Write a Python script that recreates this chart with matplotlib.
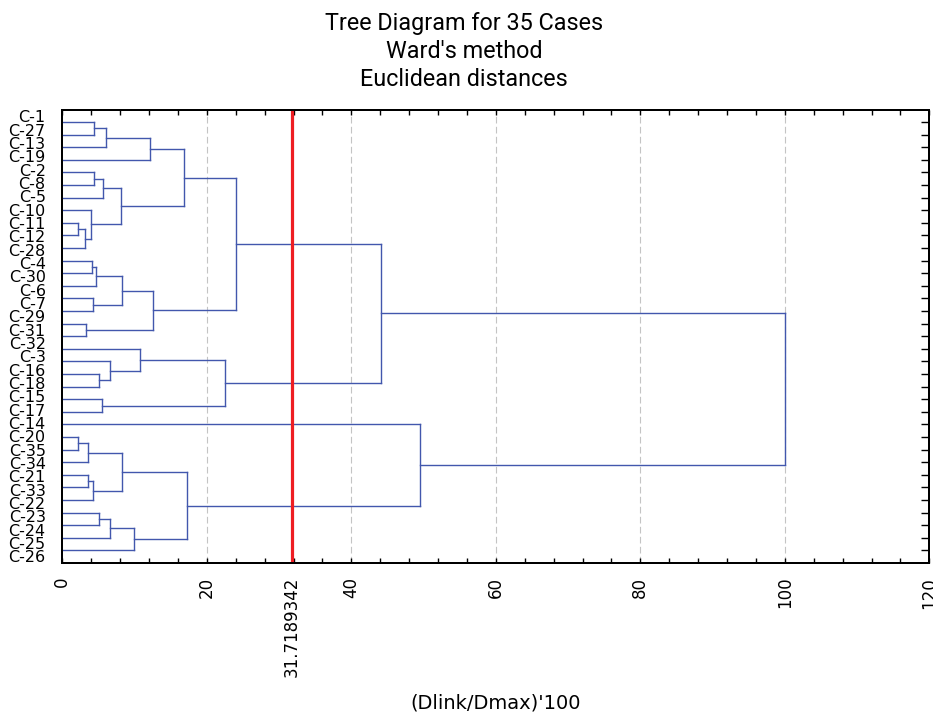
import matplotlib
matplotlib.use('Agg')
import matplotlib.pyplot as plt
from matplotlib.ticker import MultipleLocator

# case labels as printed down the left side (top to bottom)
case_labels = ['C-1', 'C-27', 'C-13', 'C-19', 'C-2', 'C-8', 'C-5', 'C-10', 'C-11',
               'C-12', 'C-28', 'C-4', 'C-30', 'C-6', 'C-7', 'C-29', 'C-31', 'C-32',
               'C-3', 'C-16', 'C-18', 'C-15', 'C-17', 'C-14', 'C-20', 'C-35', 'C-34',
               'C-21', 'C-33', 'C-22', 'C-23', 'C-24', 'C-25', 'C-26']
n_leaves = 35

# merges: (child a, child b, linkage distance as % of Dmax)
# children < 35 are leaves (in display order), >= 35 are earlier merges
merge_a = [0, 35, 36, 4, 38, 8, 40, 7, 39, 37, 11, 45, 14, 46, 16, 48, 44,
           20, 19, 18, 22, 54, 51, 25, 58, 28, 60, 59, 31, 63, 64, 62, 24, 57]
merge_b = [1, 2, 3, 5, 6, 9, 10, 41, 42, 43, 12, 13, 15, 47, 17, 49, 50,
           21, 52, 53, 23, 55, 56, 26, 27, 29, 30, 61, 32, 33, 34, 65, 66, 67]
merge_h = [4.43, 6.09, 12.1, 4.43, 5.67, 2.13, 3.19, 3.97, 8.08, 16.9, 4.06,
           4.66, 4.2, 8.31, 3.24, 12.5, 24.04, 5.13, 6.6, 10.8, 5.54, 22.5,
           44.15, 2.13, 3.6, 3.6, 4.25, 8.31, 5.13, 6.6, 9.97, 17.2, 49.5, 100.0]

cut_level = 31.7189342
x_ticks = [0, 20, 40, 60, 80, 100, 120]

fig = plt.figure(figsize=(9.33, 7.13), dpi=100)
ax = fig.add_axes([0.0668, 0.2104, 0.9293, 0.636])

line_col = '#4257ad'

# node positions: leaves at 1..35, merged clusters at the mid of their children
ypos = {i: i + 1 for i in range(n_leaves)}
xpos = {i: 0.0 for i in range(n_leaves)}
for k, (a, b, h) in enumerate(zip(merge_a, merge_b, merge_h)):
    node = n_leaves + k
    ax.plot([xpos[a], h], [ypos[a], ypos[a]], color=line_col, lw=1.0, zorder=3)
    ax.plot([xpos[b], h], [ypos[b], ypos[b]], color=line_col, lw=1.0, zorder=3)
    ax.plot([h, h], [ypos[a], ypos[b]], color=line_col, lw=1.0, zorder=3)
    ypos[node] = (ypos[a] + ypos[b]) / 2
    xpos[node] = h

ax.axvline(cut_level, color='#ee1d23', lw=2.3, zorder=4)

ax.set_xlim(0, 120)
ax.set_ylim(n_leaves + 1, 0)

ticks = sorted(x_ticks + [cut_level])
ax.set_xticks(ticks)
ax.set_xticklabels([('%.7f' % t) if t == cut_level else str(t) for t in ticks],
                   rotation=90, fontsize=12, family='DejaVu Sans')
ax.xaxis.set_minor_locator(MultipleLocator(4))
ax.tick_params(axis='x', which='both', direction='in', top=True, bottom=True,
               length=3.5, width=1, pad=10)

# labels are spread evenly over the axis height
n_lab = len(case_labels)
lab_pos = [(k + 0.5) * (n_leaves + 1) / n_lab for k in range(n_lab)]
ax.set_yticks(lab_pos)
ax.set_yticklabels(case_labels, fontsize=11.5, family='DejaVu Sans')
ax.tick_params(axis='y', which='major', left=True, length=0, pad=12)

# right side ticks at every case
ax_r = ax.twinx()
ax_r.set_ylim(n_leaves + 1, 0)
ax_r.set_yticks(range(1, n_leaves + 1))
ax_r.set_yticklabels([])
ax_r.tick_params(axis='y', direction='in', length=5.5, width=1)

for a_ in (ax, ax_r):
    for s in a_.spines.values():
        s.set_linewidth(1.4)

for x in x_ticks[1:-1]:
    ax.axvline(x, color='#c4c4c4', lw=0.8, ls=(0, (6, 3)), zorder=1)

title_lines = ['Tree Diagram for 35 Cases', "Ward's method", 'Euclidean distances']
for i, t in enumerate(title_lines):
    fig.text(0.4973, 0.958 - i * 0.0395, t, ha='center', va='baseline',
             fontsize=16.8, family='Roboto')

fig.text(0.5316, 0.0066, "(Dlink/Dmax)'100", ha='center', va='baseline',
         fontsize=14, family='DejaVu Sans')

fig.savefig('out.png', dpi=100)
